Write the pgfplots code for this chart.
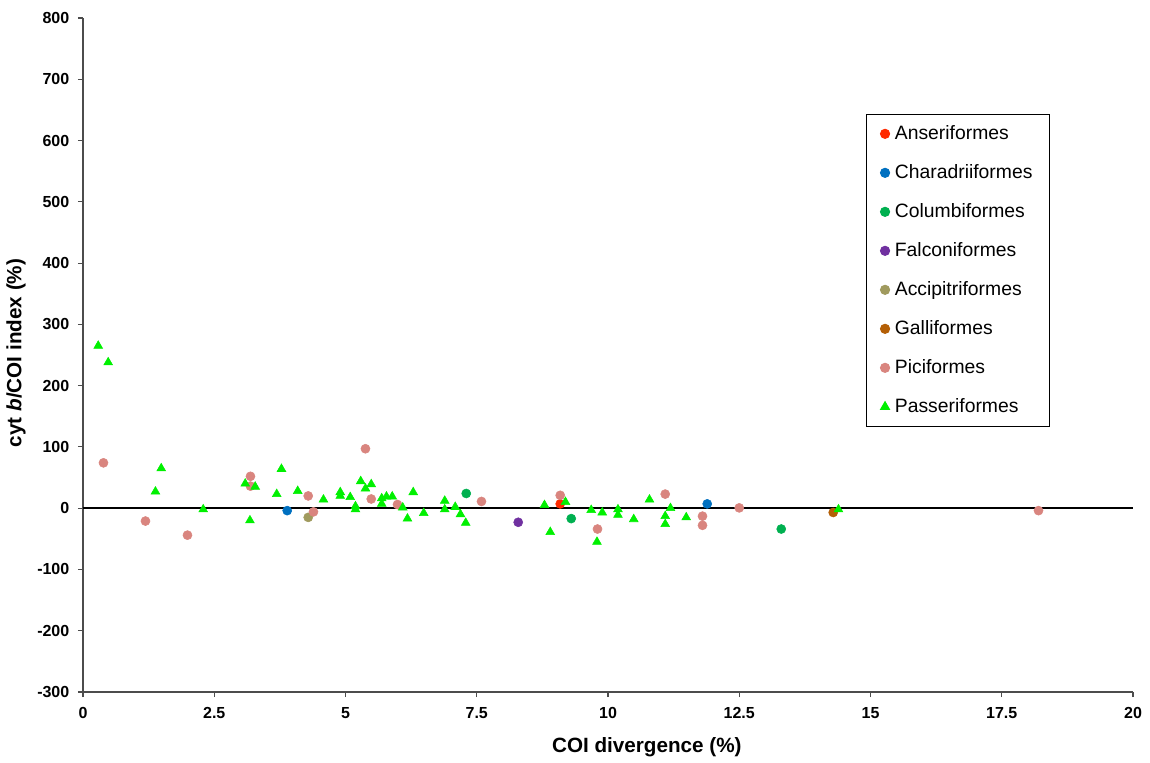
\documentclass[border=0pt]{standalone}
\usepackage{pgfplots}
\pgfplotsset{compat=1.18}
\usepackage{fontspec}
\setmainfont{Liberation Sans}

\definecolor{anser}{HTML}{FF2A00}
\definecolor{chara}{HTML}{0070C0}
\definecolor{columb}{HTML}{00B050}
\definecolor{falco}{HTML}{7030A0}
\definecolor{accip}{HTML}{A09A5E}
\definecolor{galli}{HTML}{B45F06}
\definecolor{pici}{HTML}{D9857F}
\definecolor{passer}{HTML}{00F000}

\begin{document}
\begin{tikzpicture}
\begin{axis}[
    scale only axis,
    width=787.5pt, height=505.5pt,
    xmin=0, xmax=20, ymin=-300, ymax=800,
    axis x line*=bottom, axis y line*=left,
    axis line style={-, draw=black!70, line width=0.8pt},
    tick align=outside,
    major tick length=3.75pt,
    tick style={draw=black!70, line width=0.8pt},
    xtick={0,2.5,5,7.5,10,12.5,15,17.5,20},
    xticklabels={0,2.5,5,7.5,10,12.5,15,17.5,20},
    ytick={-300,-200,-100,0,100,200,300,400,500,600,700,800},
    yticklabels={-300,-200,-100,0,100,200,300,400,500,600,700,800},
    ticklabel style={font=\bfseries\fontsize{12}{14}\selectfont},
    xticklabel style={yshift=-4.5pt},
    yticklabel style={xshift=-3pt},
    /pgf/number format/assume math mode=true,
    every axis x label/.style={at={(axis description cs:0.537,-0.0816)}, anchor=center},
    every axis y label/.style={at={(axis description cs:-0.0638,0.503)}, rotate=90, anchor=center},
    label style={font=\bfseries\fontsize{15.5}{18}\selectfont},
    xlabel={COI divergence (\%)},
    ylabel={cyt \textit{b}/COI index (\%)},
    legend image code/.code={\path (-2.25pt,0pt); \draw[#1] plot coordinates {(0pt,0pt)};},
    legend cell align=left,
    legend style={
        at={(axis description cs:0.7457,0.8576)}, anchor=north west,
        draw=black, line width=0.8pt,
        font=\fontsize{14.5}{17}\selectfont,
        inner xsep=10.5pt, inner ysep=5.5pt,
        row sep=11.25pt, column sep=2pt,
        nodes={text height=11pt, text depth=3pt, inner xsep=2pt, inner ysep=2pt},
    },
    circ/.style={only marks, mark=*, mark size=3.4pt, color=#1, mark options={draw=#1, fill=#1}},
]
\addplot[black, line width=1.5pt, forget plot, mark=none, sharp plot] coordinates {(0,0) (20,0)};

\addplot[circ=anser] coordinates {(9.09,7)};
\addlegendentry{Anseriformes}
\addplot[circ=chara] coordinates {(3.89,-4) (11.89,7)};
\addlegendentry{Charadriiformes}
\addplot[circ=columb] coordinates {(7.30,24) (9.30,-17) (13.30,-34)};
\addlegendentry{Columbiformes}
\addplot[circ=falco] coordinates {(8.29,-23)};
\addlegendentry{Falconiformes}
\addplot[circ=accip] coordinates {(4.29,-15)};
\addlegendentry{Accipitriformes}
\addplot[circ=galli] coordinates {(14.29,-7)};
\addlegendentry{Galliformes}
\addplot[circ=pici] coordinates {
    (0.39,74) (1.19,-21) (1.99,-44) (3.19,52) (3.19,36) (4.29,20)
    (4.39,-6) (5.38,97) (5.49,15) (5.99,6) (7.59,11) (9.09,21)
    (9.80,-34) (11.09,23) (11.80,-13) (11.80,-28) (12.50,0.5) (18.20,-4)};
\addlegendentry{Piciformes}
\addplot[only marks, mark=triangle*, mark size=3.8pt, color=passer, mark options={draw=passer, fill=passer}] coordinates {
    (0.29,265) (0.48,238) (1.38,27) (1.49,65) (2.29,-2) (3.09,40)
    (3.18,-20) (3.28,35) (3.69,23) (3.78,64) (4.09,28) (4.58,14)
    (4.90,26) (4.90,20) (5.09,18) (5.19,3) (5.19,-2) (5.29,44)
    (5.38,32) (5.49,39) (5.69,16) (5.69,7) (5.78,19) (5.89,19)
    (6.09,1) (6.18,-17) (6.29,26) (6.49,-8) (6.89,12) (6.89,-2)
    (7.09,2) (7.19,-10) (7.29,-24) (8.79,5) (8.90,-39) (9.19,10)
    (9.68,-3) (9.89,-7) (10.19,-2) (10.19,-11) (9.79,-55) (10.49,-18)
    (10.79,14) (11.09,-13) (11.09,-26) (11.19,0) (11.49,-15) (14.39,-2)};
\addlegendentry{Passeriformes}

\coordinate (SW) at (rel axis cs:0,0);
\coordinate (NE) at (rel axis cs:1,1);
\end{axis}
\pgfresetboundingbox
\path[use as bounding box] ([xshift=-62.25pt,yshift=-52.5pt]SW) rectangle ([xshift=12.75pt,yshift=13.5pt]NE);
\end{tikzpicture}
\end{document}
